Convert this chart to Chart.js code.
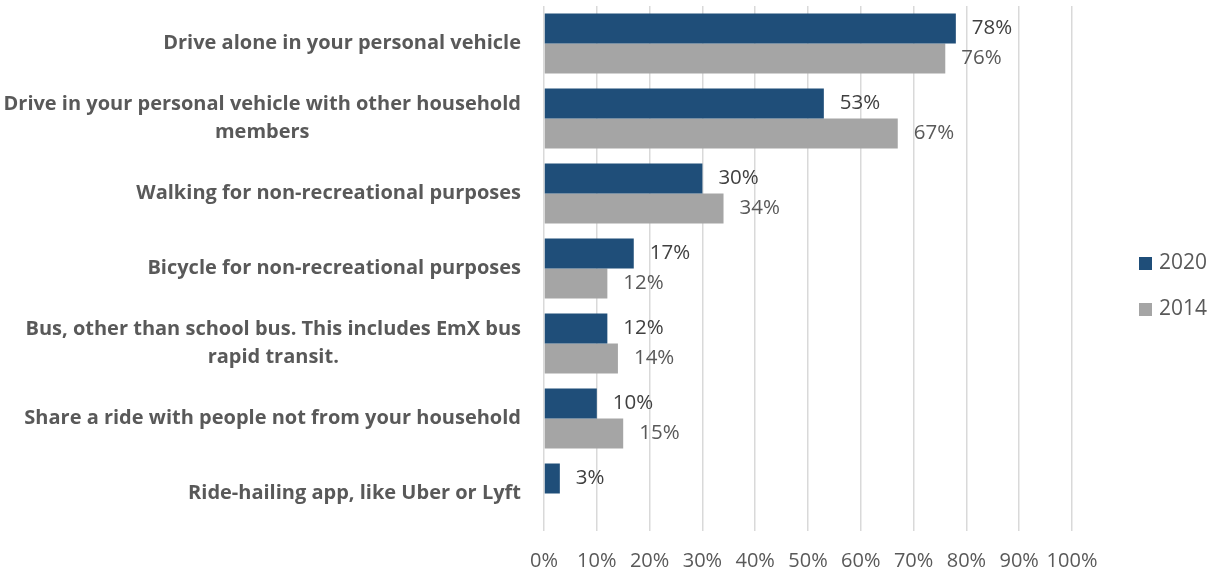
<!DOCTYPE html>
<html>
<head>
<meta charset="utf-8">
<script src="https://cdn.jsdelivr.net/npm/chart.js@4"></script>
<style>
  html, body { margin: 0; padding: 0; background: #fff; }
  #wrap { width: 1215px; height: 579px; }
</style>
</head>
<body>
<div id="wrap"><canvas id="modeChart"></canvas></div>
<script>
// travel mode by survey year (percent of respondents)
const categories = [
  ['Drive alone in your personal vehicle'],
  ['Drive in your personal vehicle with other household', 'members'],
  ['Walking for non-recreational purposes'],
  ['Bicycle for non-recreational purposes'],
  ['Bus, other than school bus. This includes EmX bus', 'rapid transit.'],
  ['Share a ride with people not from your household'],
  ['Ride-hailing app, like Uber or Lyft']
];
const seriesNames = ['2020', '2014'];
const values2020 = [78, 53, 30, 17, 12, 10, 3];
const values2014 = [76, 67, 34, 12, 14, 15, null];
const seriesColors = ['#1F4E79', '#A5A5A5'];
const labelColors = ['#404040', '#595959'];

const FONT = '"Open Sans", "Liberation Sans", sans-serif';

// category text, value labels and the side legend
const labelsPlugin = {
  id: 'modeLabels',
  afterDraw(chart) {
    const { ctx, chartArea, scales } = chart;
    ctx.save();

    // category names, right aligned; wrapped lines centred on each other
    ctx.font = 'bold 20px ' + FONT;
    ctx.fillStyle = '#595959';
    ctx.textBaseline = 'middle';
    ctx.textAlign = 'center';
    const right = chartArea.left - 23;
    categories.forEach((lines, i) => {
      const y = scales.y.getPixelForValue(i);
      const w = Math.max(...lines.map(l => ctx.measureText(l).width));
      lines.forEach((line, j) => {
        ctx.fillText(line, right - w / 2, y + (j - (lines.length - 1) / 2) * 28);
      });
    });

    // value labels at the end of each bar
    ctx.textAlign = 'left';
    ctx.font = '20.5px ' + FONT;
    chart.data.datasets.forEach((ds, di) => {
      ctx.fillStyle = labelColors[di];
      chart.getDatasetMeta(di).data.forEach((bar, i) => {
        const v = ds.data[i];
        if (v == null) return;
        ctx.fillText(v + '%', bar.x + 16, bar.y);
      });
    });

    // legend
    ctx.font = '21px ' + FONT;
    const lx = chartArea.right + 67;
    const offsets = [-26, 20];
    chart.data.datasets.forEach((ds, di) => {
      const ly = chart.height / 2 + offsets[di];
      ctx.fillStyle = ds.backgroundColor;
      ctx.fillRect(lx, ly - 6.5, 13, 13);
      ctx.fillStyle = '#595959';
      ctx.fillText(ds.label, lx + 20, ly);
    });

    ctx.restore();
  }
};

new Chart(document.getElementById('modeChart'), {
  type: 'bar',
  data: {
    labels: categories.map(c => c.join(' ')),
    datasets: [
      {
        label: seriesNames[0],
        data: values2020,
        backgroundColor: seriesColors[0],
        categoryPercentage: 0.8,
        barPercentage: 1.0
      },
      {
        label: seriesNames[1],
        data: values2014,
        backgroundColor: seriesColors[1],
        categoryPercentage: 0.8,
        barPercentage: 1.0
      }
    ]
  },
  options: {
    indexAxis: 'y',
    responsive: true,
    maintainAspectRatio: false,
    animation: false,
    layout: {
      padding: { left: 544, right: 143, top: 6, bottom: 0 }
    },
    plugins: {
      legend: { display: false },
      tooltip: { enabled: false }
    },
    scales: {
      x: {
        min: 0,
        max: 100,
        border: { display: false },
        grid: { color: '#D9D9D9', lineWidth: 1.5, drawTicks: false },
        afterFit: scale => { scale.height = 48; },
        ticks: {
          stepSize: 10,
          padding: 18,
          maxRotation: 0,
          minRotation: 0,
          autoSkip: false,
          color: '#595959',
          font: { family: FONT, size: 20 },
          callback: v => v + '%'
        }
      },
      y: {
        display: false
      }
    }
  },
  plugins: [labelsPlugin]
});
</script>
</body>
</html>
